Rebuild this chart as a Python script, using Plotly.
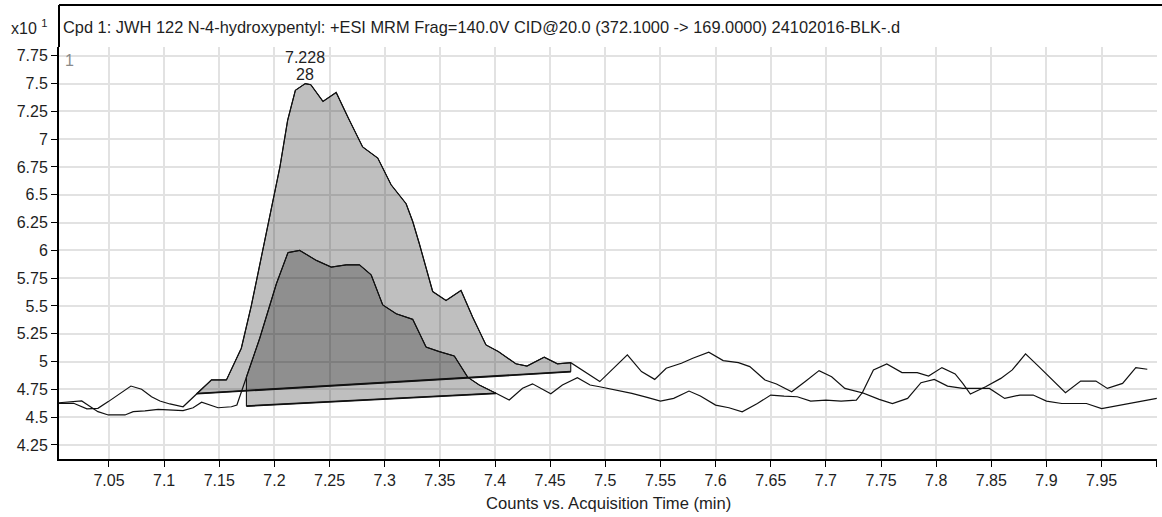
import plotly.graph_objects as go

# ---------------- data ----------------
t1_time = [7.0047, 7.0180, 7.0300, 7.0400, 7.0494, 7.0600, 7.0699, 7.0796, 7.0886, 7.0962,
           7.1052, 7.1172, 7.1295, 7.1429, 7.1565, 7.1640, 7.1700, 7.1790, 7.1890, 7.1990,
           7.2050, 7.2120, 7.2190, 7.2280, 7.2330, 7.2440, 7.2560, 7.2670, 7.2800, 7.2937,
           7.3058, 7.3194, 7.3254, 7.3314, 7.3435, 7.3556, 7.3692, 7.3797, 7.3918, 7.4030,
           7.4189, 7.4290, 7.4446, 7.4566, 7.4687, 7.4950, 7.5200, 7.5328, 7.5448, 7.5552,
           7.5690, 7.5793, 7.5938, 7.6069, 7.6207, 7.6310, 7.6448, 7.6552, 7.6690, 7.6810,
           7.6938, 7.7052, 7.7172, 7.7330, 7.7431, 7.7552, 7.7690, 7.7828, 7.7931, 7.8052,
           7.8172, 7.8241, 7.8310, 7.8448, 7.8586, 7.8690, 7.8810, 7.8931, 7.9052, 7.9172,
           7.9310, 7.9448, 7.9552, 7.9690, 7.9810, 7.9914]
t1_counts = [4.625, 4.625, 4.575, 4.580, 4.640, 4.715, 4.780, 4.751, 4.684, 4.646,
             4.619, 4.594, 4.712, 4.835, 4.835, 4.985, 5.120, 5.500, 5.990, 6.480,
             6.750, 7.170, 7.440, 7.500, 7.490, 7.340, 7.420, 7.190, 6.930, 6.830,
             6.590, 6.420, 6.260, 6.060, 5.630, 5.550, 5.640, 5.400, 5.150, 5.090,
             4.980, 4.960, 5.040, 4.980, 4.990, 4.820, 5.060, 4.910, 4.840, 4.940,
             4.985, 5.030, 5.084, 5.009, 4.991, 4.955, 4.834, 4.798, 4.729, 4.819,
             4.919, 4.864, 4.759, 4.720, 4.925, 4.979, 4.901, 4.901, 4.870, 4.946,
             4.889, 4.804, 4.708, 4.774, 4.849, 4.925, 5.069, 4.955, 4.834, 4.720,
             4.825, 4.825, 4.759, 4.804, 4.946, 4.931]

t2_time = [7.0047, 7.0192, 7.0253, 7.0298, 7.0400, 7.0494, 7.0645, 7.0720, 7.0826, 7.0946,
           7.1052, 7.1172, 7.1263, 7.1340, 7.1489, 7.1610, 7.1660, 7.1746, 7.1867, 7.2018,
           7.2123, 7.2229, 7.2380, 7.2515, 7.2651, 7.2771, 7.2877, 7.2982, 7.3104, 7.3254,
           7.3375, 7.3495, 7.3631, 7.3752, 7.3857, 7.4009, 7.4129, 7.4250, 7.4340, 7.4506,
           7.4611, 7.4747, 7.4862, 7.4948, 7.5103, 7.5241, 7.5379, 7.5500, 7.5620, 7.5759,
           7.5862, 7.6000, 7.6121, 7.6241, 7.6379, 7.6500, 7.6621, 7.6741, 7.6862, 7.7000,
           7.7138, 7.7276, 7.7330, 7.7483, 7.7603, 7.7741, 7.7862, 7.7983, 7.8103, 7.8241,
           7.8379, 7.8483, 7.8621, 7.8759, 7.8879, 7.9000, 7.9138, 7.9362, 7.9500, 7.9621,
           7.9759, 8.0000]
t2_counts = [4.630, 4.646, 4.646, 4.616, 4.550, 4.520, 4.520, 4.550, 4.556, 4.571,
             4.565, 4.559, 4.585, 4.635, 4.585, 4.594, 4.610, 4.860, 5.210, 5.700,
             5.980, 6.000, 5.910, 5.850, 5.870, 5.870, 5.780, 5.510, 5.430, 5.380,
             5.130, 5.090, 5.050, 4.860, 4.790, 4.715, 4.655, 4.760, 4.800, 4.710,
             4.790, 4.855, 4.789, 4.774, 4.744, 4.714, 4.678, 4.645, 4.669, 4.735,
             4.690, 4.609, 4.585, 4.548, 4.623, 4.699, 4.690, 4.684, 4.645, 4.654,
             4.645, 4.654, 4.720, 4.660, 4.623, 4.669, 4.810, 4.840, 4.780, 4.759,
             4.759, 4.759, 4.669, 4.699, 4.699, 4.645, 4.623, 4.623, 4.578, 4.600,
             4.630, 4.669]

peak_a_window = [7.1295, 7.4687]
peak_a_baseline = [4.712, 4.909]
peak_b_window = [7.1746, 7.4009]
peak_b_baseline = [4.600, 4.715]

y_ticks = [4.25, 4.5, 4.75, 5.0, 5.25, 5.5, 5.75, 6.0, 6.25, 6.5, 6.75, 7.0, 7.25, 7.5, 7.75]
y_tick_labels = ["4.25", "4.5", "4.75", "5", "5.25", "5.5", "5.75", "6", "6.25", "6.5",
                 "6.75", "7", "7.25", "7.5", "7.75"]
x_ticks = [7.05, 7.1, 7.15, 7.2, 7.25, 7.3, 7.35, 7.4, 7.45, 7.5, 7.55, 7.6, 7.65, 7.7,
           7.75, 7.8, 7.85, 7.9, 7.95, 8.0]
x_tick_labels = ["7.05", "7.1", "7.15", "7.2", "7.25", "7.3", "7.35", "7.4", "7.45", "7.5",
                 "7.55", "7.6", "7.65", "7.7", "7.75", "7.8", "7.85", "7.9", "7.95", " "]

chart_title = ("Cpd 1: JWH 122 N-4-hydroxypentyl: +ESI MRM Frag=140.0V CID@20.0 "
               "(372.1000 -> 169.0000) 24102016-BLK-.d")
x_title = "Counts vs. Acquisition Time (min)"
y_multiplier = "x10 <sup>1</sup>"
peak_rt_label = "7.228"
peak_extra_label = "28"
panel_label = "1"

# ---------------- layout constants ----------------
W, H = 1162, 517
ML, MR, MT, MB = 59, 3, 47, 58
PLOT_H = H - MT - MB
FONT = "Liberation Sans, Arial, sans-serif"
TXT = "#1e1e1e"


def region(tx, ty, window, base):
    lo, hi = window
    pts = [(x, y) for x, y in zip(tx, ty) if lo - 1e-9 <= x <= hi + 1e-9]
    xs = [p[0] for p in pts] + [hi, lo, pts[0][0]]
    ys = [p[1] for p in pts] + [base[1], base[0], pts[0][1]]
    return xs, ys


fig = go.Figure()

for tx, ty, win, base in [(t1_time, t1_counts, peak_a_window, peak_a_baseline),
                          (t2_time, t2_counts, peak_b_window, peak_b_baseline)]:
    rx, ry = region(tx, ty, win, base)
    fig.add_trace(go.Scatter(x=rx, y=ry, mode="lines", fill="toself",
                             fillcolor="rgba(0,0,0,0.25)",
                             line=dict(color="black", width=1),
                             hoverinfo="skip", showlegend=False))

for tx, ty in [(t1_time, t1_counts), (t2_time, t2_counts)]:
    fig.add_trace(go.Scatter(x=tx, y=ty, mode="lines",
                             line=dict(color="#111111", width=1.2),
                             showlegend=False))

for win, base in [(peak_a_window, peak_a_baseline), (peak_b_window, peak_b_baseline)]:
    fig.add_trace(go.Scatter(x=win, y=base, mode="lines",
                             line=dict(color="#111111", width=1.8),
                             showlegend=False, hoverinfo="skip"))

axis_common = dict(
    showgrid=True, gridcolor="#e2e2e2", gridwidth=2,
    zeroline=False, showline=True, linecolor="black", linewidth=2,
    ticks="outside", ticklen=6, tickwidth=1, tickcolor="black",
    tickfont=dict(family=FONT, size=16, color=TXT),
)

fig.update_xaxes(range=[7.0047, 8.0002], tickmode="array", tickvals=x_ticks,
                 ticktext=x_tick_labels, **axis_common)
fig.update_yaxes(range=[4.124, 7.829], tickmode="array", tickvals=y_ticks,
                 ticktext=y_tick_labels, **axis_common)

top_paper = 1 + (MT - 5) / PLOT_H
fig.add_shape(type="line", xref="paper", yref="paper", x0=0, x1=1.01, y0=top_paper,
              y1=top_paper, line=dict(color="black", width=2))
fig.add_shape(type="line", xref="paper", yref="paper", x0=0, x1=0, y0=1,
              y1=top_paper, line=dict(color="black", width=2))

annotations = [
    dict(text=chart_title, xref="paper", yref="paper", x=0, xshift=2,
         y=1 + (MT - 27) / PLOT_H, xanchor="left", yanchor="middle", showarrow=False,
         font=dict(family=FONT, size=16.4, color=TXT)),
    dict(text=y_multiplier, xref="paper", yref="paper", x=(9 - ML) / 1100,
         y=1 + (MT - 27) / PLOT_H, xanchor="left", yanchor="middle", showarrow=False,
         font=dict(family=FONT, size=16, color=TXT)),
    dict(text=panel_label, xref="paper", yref="paper", x=(63 - ML) / 1100,
         y=(H - MB - 61) / PLOT_H, xanchor="left", yanchor="middle", showarrow=False,
         font=dict(family=FONT, size=16, color="#8a8a8a")),
    dict(text=x_title, xref="paper", yref="paper", x=0.5,
         y=-(503 - (H - MB)) / PLOT_H, xanchor="center", yanchor="middle",
         showarrow=False, font=dict(family=FONT, size=16.6, color=TXT)),
    dict(text=peak_rt_label, xref="x", yref="y", x=7.228, y=max(t1_counts),
         yshift=26, xanchor="center", yanchor="middle", showarrow=False,
         font=dict(family=FONT, size=16, color=TXT)),
    dict(text=peak_extra_label, xref="x", yref="y", x=7.228, y=max(t1_counts),
         yshift=9, xanchor="center", yanchor="middle", showarrow=False,
         font=dict(family=FONT, size=16, color=TXT)),
]

fig.update_layout(
    width=W, height=H, autosize=False,
    margin=dict(l=ML, r=MR, t=MT, b=MB, pad=0),
    paper_bgcolor="white", plot_bgcolor="white",
    showlegend=False, annotations=annotations,
    font=dict(family=FONT, size=16, color=TXT),
)

fig.write_html("out.html")
